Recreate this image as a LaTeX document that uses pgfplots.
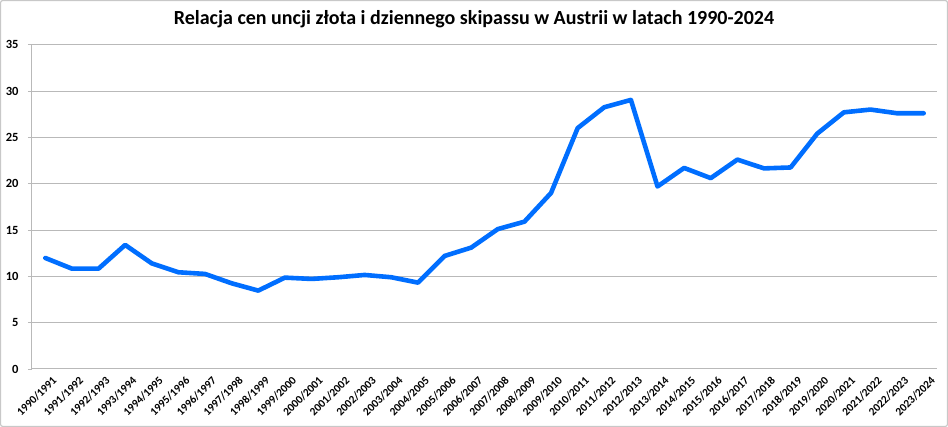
\documentclass[border=0pt]{standalone}
\usepackage{pgfplots}
\pgfplotsset{compat=1.18}
\usepackage{fontspec}
\setmainfont{Carlito}
\definecolor{linec}{RGB}{0,110,255}
\definecolor{gridc}{RGB}{185,185,185}
\definecolor{framec}{RGB}{200,200,200}
\begin{document}
\begin{tikzpicture}[x=1pt,y=1pt]
\useasboundingbox (-32,-58) rectangle (916,369);
\draw[framec, line width=1.2pt, rounded corners=2pt] (-31.4,-57.4) rectangle (915.4,368.4);
\node[font=\fontsize{20}{23}\selectfont\bfseries] at (442,350) {Relacja cen uncji złota i dziennego skipassu w Austrii w latach 1990-2024};
\begin{axis}[
  at={(0,0)}, anchor=south west,
  scale only axis, width=905pt, height=324.3pt,
  xmin=-0.5, xmax=33.5, ymin=0, ymax=35,
  ytick={0,5,...,35},
  xtick={0,...,33},
  xticklabels={1990/1991,1991/1992,1992/1993,1993/1994,1994/1995,1995/1996,1996/1997,1997/1998,1998/1999,1999/2000,2000/2001,2001/2002,2002/2003,2003/2004,2004/2005,2005/2006,2006/2007,2007/2008,2008/2009,2009/2010,2010/2011,2011/2012,2012/2013,2013/2014,2014/2015,2015/2016,2016/2017,2017/2018,2018/2019,2019/2020,2020/2021,2021/2022,2022/2023,2023/2024},
  minor xtick={-0.5,0.5,...,33.5},
  axis x line*=bottom, axis y line*=left,
  axis line style={gridc, line width=1pt, -},
  ymajorgrids, grid style={gridc, line width=1pt},
  tick align=outside,
  major tick length=4pt, minor tick length=4pt,
  x tick style={draw=none},
  xtick style={draw=none},
  minor x tick style={gridc, line width=0.8pt},
  y tick style={gridc, line width=0.8pt},
  /pgf/number format/assume math mode=true,
  yticklabel style={font=\fontsize{12.5}{14}\selectfont\bfseries, xshift=-6pt},
  xticklabel style={font=\fontsize{11.3}{13}\selectfont\bfseries, rotate=45, anchor=north east, inner sep=1pt, xshift=4pt, yshift=-5pt},
]
\addplot[linec, line width=4.6pt, line join=round, line cap=round] coordinates {
(0,11.98) (1,10.83) (2,10.83) (3,13.39) (4,11.4) (5,10.44) (6,10.26) (7,9.25) (8,8.46) (9,9.86)
(10,9.72) (11,9.9) (12,10.15) (13,9.9) (14,9.32) (15,12.2) (16,13.1) (17,15.1) (18,15.9) (19,19.0)
(20,26.0) (21,28.25) (22,29.04) (23,19.7) (24,21.7) (25,20.6) (26,22.6) (27,21.65) (28,21.75) (29,25.4)
(30,27.7) (31,28.0) (32,27.6) (33,27.6)
};
\end{axis}
\end{tikzpicture}
\end{document}
